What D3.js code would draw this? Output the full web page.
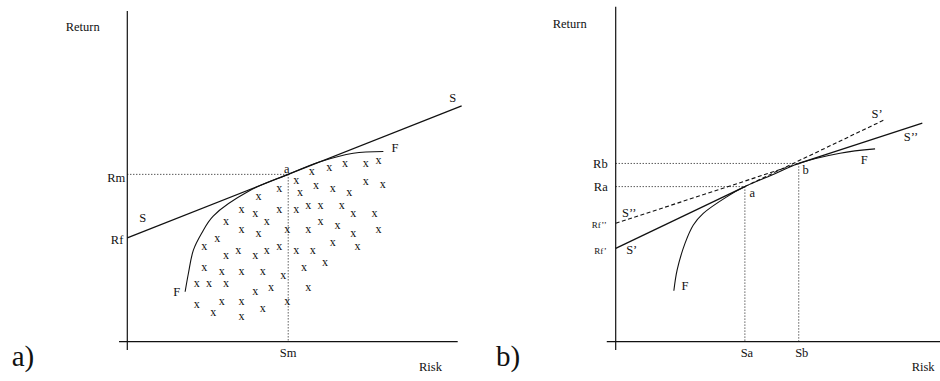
<!DOCTYPE html>
<html>
<head>
<meta charset="utf-8">
<script src="https://cdn.jsdelivr.net/npm/d3@7"></script>
<style>
  html, body { margin: 0; padding: 0; background: #fff; }
  svg { display: block; }
  text { font-family: "Liberation Serif", "Times New Roman", serif; fill: #111; }
</style>
</head>
<body>
<svg id="chart" width="940" height="381"></svg>
<script>
// ---------- Panel a data ----------
const aRf = 31.4, aRm = 50.6, aSm = 48.7, aSEnd = 101.2;
const aFrontier = [
  [17.5, 15.1], [18.5, 20.7], [20.0, 27.7], [22.5, 32.8], [26.0, 38.0],
  [37.1, 45.7], [48.7, 50.6], [58.3, 54.4], [68.4, 57.0], [77.5, 57.5]
];
const aPortfolios = [
  [55.8, 51.2], [61.1, 52.4], [65.9, 53.6], [72.2, 53.6], [76.0, 54.7],
  [51.1, 48.6], [46.0, 46.1], [52.3, 44.9], [57.1, 47.2], [62.2, 46.1], [67.2, 44.9], [72.2, 48.4], [77.3, 47.4],
  [39.7, 43.7],
  [34.6, 39.8], [38.7, 38.6], [46.0, 39.8], [51.1, 39.8], [54.8, 41.0], [58.5, 41.0], [64.9, 41.0], [68.4, 38.6], [74.8, 38.6],
  [29.9, 36.3], [42.2, 36.3], [34.6, 33.8], [39.7, 32.5], [48.4, 33.8], [54.8, 33.8], [58.5, 36.3], [63.6, 35.0], [68.4, 32.5], [76.0, 33.8],
  [27.2, 31.1], [23.3, 28.5], [29.9, 26.0], [33.6, 27.4], [38.7, 26.0], [42.2, 27.4], [46.0, 28.5], [51.1, 27.4], [56.1, 27.4], [62.2, 29.8], [69.7, 28.5],
  [23.3, 22.4], [28.6, 21.0], [34.6, 21.0], [41.0, 21.0], [47.2, 19.9], [53.5, 22.4], [59.8, 23.7],
  [21.0, 17.4], [24.7, 17.4], [29.9, 17.4], [38.7, 14.9], [43.5, 16.1], [54.8, 16.1],
  [21.0, 11.1], [28.6, 12.1], [34.6, 12.1], [26.0, 8.6], [34.6, 7.4], [41.0, 9.8], [48.4, 12.1]
];

// ---------- Panel b data ----------
const bRf1 = 28.2, bRf2 = 35.8, bRa = 46.9, bRb = 53.9, bSa = 39.1, bSb = 55.4;
const bS1End = 81.0, bS2End = 92.8;
const bFrontier = [
  [17.6, 15.4], [18.6, 21.7], [21.0, 29.8], [23.5, 35.3], [26.5, 38.8],
  [33.6, 43.8], [39.1, 46.9], [47.3, 50.4], [55.4, 53.9], [67.9, 57.0], [78.5, 58.3]
];

// axis extents (data units)
const aXAxis = [-2.5, 100], aYAxis = [-2.5, 100];
const bXAxis = [-2.7, 98.2], bYAxis = [-2.5, 101.3];

const svg = d3.select("#chart");

function makePanel(x0) {
  const x = d3.scaleLinear().domain([0, 100]).range([x0, x0 + 330.4]);
  const y = d3.scaleLinear().domain([0, 100]).range([341.7, 11]);
  return { x, y, g: svg.append("g") };
}

function seg(p, x1, y1, x2, y2, opts = {}) {
  p.g.append("line")
    .attr("x1", p.x(x1)).attr("y1", p.y(y1))
    .attr("x2", p.x(x2)).attr("y2", p.y(y2))
    .attr("stroke", "#111")
    .attr("stroke-width", opts.w || 1)
    .attr("stroke-dasharray", opts.dash || null);
}

function label(p, px, py, txt, opts = {}) {
  p.g.append("text")
    .attr("x", px).attr("y", py)
    .attr("dy", opts.dy || "0.35em")
    .attr("text-anchor", opts.anchor || "middle")
    .attr("font-size", opts.size || 12.5)
    .text(txt);
}

const curveGen = (p) => d3.line().x(d => p.x(d[0])).y(d => p.y(d[1])).curve(d3.curveCatmullRom.alpha(0.5));

// ================= Panel a =================
const A = makePanel(127.3);
seg(A, 0, aYAxis[0], 0, aYAxis[1], { w: 1.2 });
seg(A, aXAxis[0], 0, aXAxis[1], 0, { w: 1.2 });
// dotted guides
seg(A, 0, aRm, aSm, aRm, { dash: "1,2" });
seg(A, aSm, aRm, aSm, 0, { dash: "1,2" });
// capital market line S
const aSlope = (aRm - aRf) / aSm;
seg(A, 0, aRf, aSEnd, aRf + aSlope * aSEnd, { w: 1.3 });
// frontier
A.g.append("path").datum(aFrontier).attr("d", curveGen(A))
  .attr("fill", "none").attr("stroke", "#111").attr("stroke-width", 1.1);
// portfolios
A.g.selectAll("text.pt").data(aPortfolios).join("text").attr("class", "pt")
  .attr("x", d => A.x(d[0])).attr("y", d => A.y(d[1]))
  .attr("dy", "0.25em").attr("text-anchor", "middle").attr("font-size", 12)
  .text("x");

label(A, 65.7, 27, "Return", { anchor: "start" });
label(A, 419, 367, "Risk", { anchor: "start" });
label(A, A.x(aSm), 353, "Sm");
label(A, A.x(0) - 2, A.y(aRm) + 3, "Rm", { anchor: "end" });
label(A, A.x(0) - 4, A.y(aRf) + 2, "Rf", { anchor: "end" });
label(A, 452.7, 98, "S");
label(A, 142.7, 218, "S");
label(A, 395, 148, "F");
label(A, 176.7, 292, "F");
label(A, A.x(aSm) - 1.5, A.y(aRm) - 6, "a");
label(A, 23, 356, "a)", { size: 29 });

// ================= Panel b =================
const B = makePanel(615.7);
seg(B, 0, bYAxis[0], 0, bYAxis[1], { w: 1.2 });
seg(B, bXAxis[0], 0, bXAxis[1], 0, { w: 1.2 });
seg(B, 0, bRb, bSb, bRb, { dash: "1,2" });
seg(B, 0, bRa, bSa, bRa, { dash: "1,2" });
seg(B, bSa, bRa, bSa, 0, { dash: "1,2" });
seg(B, bSb, bRb, bSb, 0, { dash: "1,2" });
// S' : Rf' through a
const s1 = (bRa - bRf1) / bSa;
seg(B, 0, bRf1, bSa, bRa, { w: 1.3 });
seg(B, bSa, bRa, bS1End, bRf1 + s1 * bS1End, { w: 1.1, dash: "4,2.5" });
// S'' : Rf'' through b
const s2 = (bRb - bRf2) / bSb;
seg(B, 0, bRf2, bSb, bRb, { w: 1.1, dash: "4,2.5" });
seg(B, bSb, bRb, bS2End, bRf2 + s2 * bS2End, { w: 1.3 });
// frontier
B.g.append("path").datum(bFrontier).attr("d", curveGen(B))
  .attr("fill", "none").attr("stroke", "#111").attr("stroke-width", 1.1);

label(B, 552.7, 24, "Return", { anchor: "start" });
label(B, 911.7, 367, "Risk", { anchor: "start" });
label(B, B.x(bSa) + 2, 353, "Sa");
label(B, B.x(bSb) + 3, 353, "Sb");
label(B, B.x(0) - 8, B.y(bRb), "Rb", { anchor: "end" });
label(B, B.x(0) - 8, B.y(bRa), "Ra", { anchor: "end" });
label(B, B.x(0) - 9, B.y(bRf2) + 2, "Rf’’", { anchor: "end", size: 9 });
label(B, B.x(0) - 9, B.y(bRf1) + 2, "Rf’", { anchor: "end", size: 9 });
label(B, 629.3, 212.3, "S’’");
label(B, 631.7, 250, "S’");
label(B, 877, 114, "S’");
label(B, 911, 136.7, "S’’");
label(B, 685, 285.7, "F");
label(B, 864.3, 160, "F");
label(B, B.x(bSa) + 7.5, B.y(bRa) + 6, "a");
label(B, B.x(bSb) + 7, B.y(bRb) + 6.5, "b");
label(B, 508, 356, "b)", { size: 29 });
</script>
</body>
</html>
